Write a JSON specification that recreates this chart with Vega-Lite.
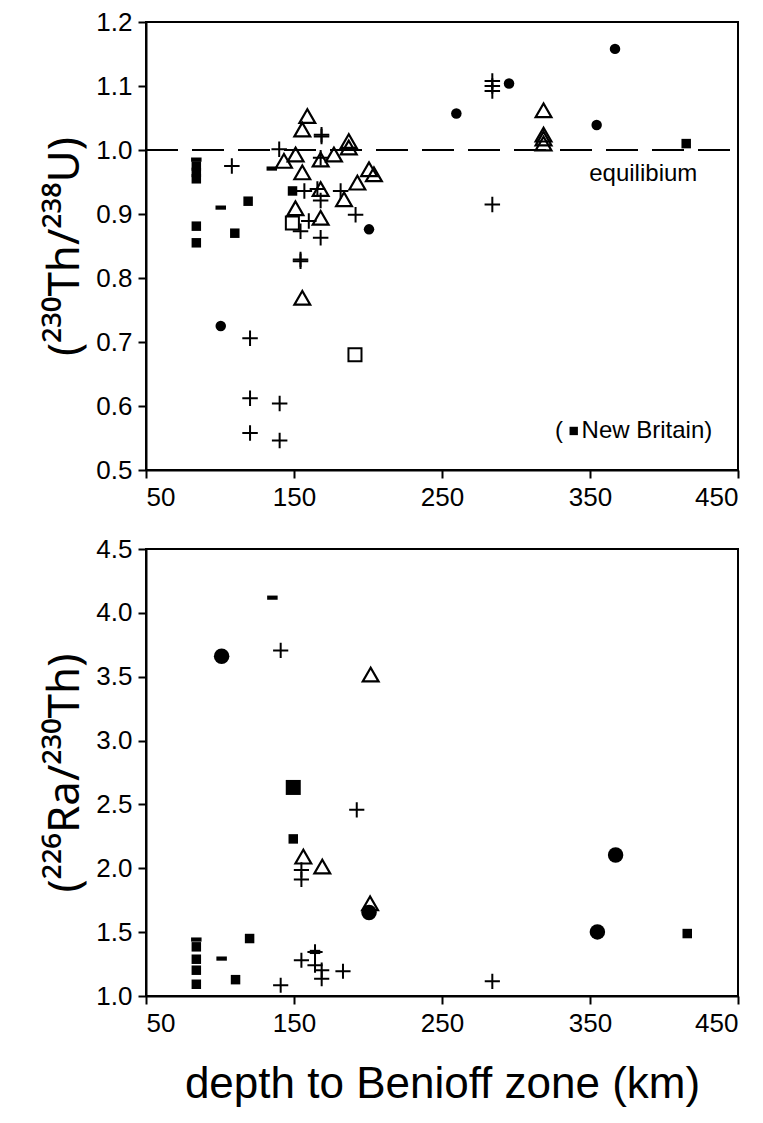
{
  "$schema": "https://vega.github.io/schema/vega-lite/v6.json",
  "padding": {"left": 42, "top": 8, "right": 10, "bottom": 10},
  "background": "white",
  "bounds": "flush",
  "spacing": 79,
  "datasets": {
    "top": [
      {"s": "sq", "x": 84, "y": 0.975}, {"s": "sq", "x": 84, "y": 0.965}, {"s": "sq", "x": 84, "y": 0.955},
      {"s": "sq", "x": 84, "y": 0.881}, {"s": "sq", "x": 84, "y": 0.855}, {"s": "sq", "x": 119, "y": 0.92},
      {"s": "sq", "x": 110, "y": 0.87}, {"s": "sq", "x": 149, "y": 0.936}, {"s": "sq", "x": 415, "y": 1.01},
      {"s": "dash", "x": 84, "y": 0.985}, {"s": "dash", "x": 100.5, "y": 0.91}, {"s": "dash", "x": 135, "y": 0.971},
      {"s": "ci", "x": 100.5, "y": 0.725}, {"s": "ci", "x": 200.7, "y": 0.876}, {"s": "ci", "x": 259.7, "y": 1.057},
      {"s": "ci", "x": 295.3, "y": 1.104}, {"s": "ci", "x": 366.9, "y": 1.158}, {"s": "ci", "x": 354.5, "y": 1.039},
      {"s": "cr", "x": 108, "y": 0.975}, {"s": "cr", "x": 140, "y": 1.001}, {"s": "cr", "x": 168.6, "y": 1.024},
      {"s": "cr", "x": 168.6, "y": 1.021}, {"s": "cr", "x": 168, "y": 0.988}, {"s": "cr", "x": 157, "y": 0.936},
      {"s": "cr", "x": 165.8, "y": 0.939}, {"s": "cr", "x": 168, "y": 0.921}, {"s": "cr", "x": 181.5, "y": 0.936},
      {"s": "cr", "x": 191.6, "y": 0.899}, {"s": "cr", "x": 154.4, "y": 0.873}, {"s": "cr", "x": 160, "y": 0.889},
      {"s": "cr", "x": 168, "y": 0.863}, {"s": "cr", "x": 154.4, "y": 0.829}, {"s": "cr", "x": 154.4, "y": 0.826},
      {"s": "cr", "x": 120.3, "y": 0.706}, {"s": "cr", "x": 120.3, "y": 0.612}, {"s": "cr", "x": 140.3, "y": 0.604},
      {"s": "cr", "x": 120.3, "y": 0.558}, {"s": "cr", "x": 140.3, "y": 0.546}, {"s": "cr", "x": 284, "y": 1.108},
      {"s": "cr", "x": 284, "y": 1.1}, {"s": "cr", "x": 284, "y": 1.092}, {"s": "cr", "x": 284, "y": 0.915},
      {"s": "tr", "x": 143.2, "y": 0.983}, {"s": "tr", "x": 151.1, "y": 0.993}, {"s": "tr", "x": 159, "y": 1.053},
      {"s": "tr", "x": 155.6, "y": 1.032}, {"s": "tr", "x": 155.6, "y": 0.965}, {"s": "tr", "x": 168, "y": 0.985},
      {"s": "tr", "x": 177, "y": 0.993}, {"s": "tr", "x": 187, "y": 1.014}, {"s": "tr", "x": 187, "y": 1.004},
      {"s": "tr", "x": 200.7, "y": 0.97}, {"s": "tr", "x": 204, "y": 0.962}, {"s": "tr", "x": 192.8, "y": 0.949},
      {"s": "tr", "x": 168, "y": 0.939}, {"s": "tr", "x": 183.8, "y": 0.923}, {"s": "tr", "x": 151, "y": 0.909},
      {"s": "tr", "x": 168, "y": 0.894}, {"s": "tr", "x": 155.6, "y": 0.769}, {"s": "tr", "x": 318.6, "y": 1.062},
      {"s": "tr", "x": 318.6, "y": 1.024}, {"s": "tr", "x": 318.6, "y": 1.018}, {"s": "tr", "x": 318.6, "y": 1.01},
      {"s": "osq", "x": 148.9, "y": 0.886}, {"s": "osq", "x": 191.2, "y": 0.68}
    ],
    "bot": [
      {"s": "sq", "x": 84, "y": 1.385}, {"s": "sq", "x": 84, "y": 1.288}, {"s": "sq", "x": 84, "y": 1.202},
      {"s": "sq", "x": 84, "y": 1.092}, {"s": "sq", "x": 120, "y": 1.45}, {"s": "sq", "x": 110.5, "y": 1.128},
      {"s": "sq", "x": 149.5, "y": 2.23}, {"s": "sq", "x": 415.7, "y": 1.489},
      {"s": "bsq", "x": 149.5, "y": 2.633},
      {"s": "dash", "x": 84, "y": 1.442}, {"s": "dash", "x": 101.1, "y": 1.293}, {"s": "dash", "x": 135.4, "y": 4.119},
      {"s": "dash", "x": 164.2, "y": 1.345},
      {"s": "ci", "x": 101.1, "y": 3.661}, {"s": "ci", "x": 200.7, "y": 1.654}, {"s": "ci", "x": 367.3, "y": 2.104},
      {"s": "ci", "x": 355, "y": 1.502},
      {"s": "cr", "x": 141, "y": 3.706}, {"s": "cr", "x": 192.4, "y": 2.458}, {"s": "cr", "x": 155, "y": 1.987},
      {"s": "cr", "x": 155, "y": 1.913}, {"s": "cr", "x": 141, "y": 1.084}, {"s": "cr", "x": 155, "y": 1.28},
      {"s": "cr", "x": 164.2, "y": 1.345}, {"s": "cr", "x": 164.2, "y": 1.241}, {"s": "cr", "x": 168.7, "y": 1.202},
      {"s": "cr", "x": 168.7, "y": 1.136}, {"s": "cr", "x": 183.1, "y": 1.194}, {"s": "cr", "x": 284, "y": 1.115},
      {"s": "tr", "x": 156.3, "y": 2.091}, {"s": "tr", "x": 169.1, "y": 2.013}, {"s": "tr", "x": 201.4, "y": 1.725},
      {"s": "tr", "x": 201.8, "y": 3.517}
    ]
  },
  "config": {
    "view": {"stroke": "black", "strokeWidth": 2},
    "axis": {
      "domainColor": "black", "domainWidth": 2, "tickColor": "black", "tickWidth": 2, "tickSize": 8,
      "grid": false, "labelFont": "Liberation Sans", "labelFontSize": 26, "labelColor": "black", "labelPadding": 6,
      "titleFont": "Liberation Sans", "titleFontWeight": "normal", "titleColor": "black"
    },
    "text": {"font": "Liberation Sans", "color": "black"}
  },
  "vconcat": [
    {
      "width": 592, "height": 448,
      "data": {"name": "top"},
      "encoding": {
        "x": {"field": "x", "type": "quantitative", "scale": {"domain": [50, 450], "nice": false},
              "axis": {"values": [50, 150, 250, 350, 450], "title": null}},
        "y": {"field": "y", "type": "quantitative", "scale": {"domain": [0.5, 1.2], "nice": false, "zero": false},
              "axis": {"values": [0.5, 0.6, 0.7, 0.8, 0.9, 1.0, 1.1, 1.2], "format": ".1f", "title": "(²³⁰Th/²³⁸U)", "titleFont": "Noto Sans", "titleFontSize": 44, "titlePadding": 8}}
      },
      "layer": [
        {"mark": {"type": "rule", "strokeDash": [32, 14], "strokeWidth": 2, "color": "black"},
         "encoding": {"y": {"datum": 1}, "x": {"value": 0}, "x2": {"value": 592}}},
        {"transform": [{"filter": "datum.s === 'sq'"}], "mark": {"type": "point", "shape": "square", "filled": true, "color": "black", "size": 90, "opacity": 1}},
        {"transform": [{"filter": "datum.s === 'dash'"}], "mark": {"type": "point", "shape": "M-1,-0.4H1V0.4H-1Z", "filled": true, "color": "black", "size": 110, "opacity": 1}},
        {"transform": [{"filter": "datum.s === 'ci'"}], "mark": {"type": "point", "shape": "circle", "filled": true, "color": "black", "size": 110, "opacity": 1}},
        {"transform": [{"filter": "datum.s === 'cr'"}], "mark": {"type": "point", "shape": "M-1,0H1M0,-1V1", "filled": false, "color": "black", "strokeWidth": 2, "size": 240, "opacity": 1}},
        {"transform": [{"filter": "datum.s === 'tr'"}], "mark": {"type": "point", "shape": "triangle-up", "filled": false, "color": "black", "strokeWidth": 2.2, "size": 250, "opacity": 1}},
        {"transform": [{"filter": "datum.s === 'osq'"}], "mark": {"type": "point", "shape": "square", "filled": false, "color": "black", "strokeWidth": 2, "size": 170, "opacity": 1}},
        {"data": {"values": [{"x": 386, "y": 0.962, "t": "equilibium"}]},
         "mark": {"type": "text", "fontSize": 24, "align": "center", "baseline": "middle"},
         "encoding": {"text": {"field": "t"}}},
        {"data": {"values": [{"x": 329, "y": 0.561, "t": "("}, {"x": 347, "y": 0.561, "t": "New Britain)"}]},
         "mark": {"type": "text", "fontSize": 24, "align": "left", "baseline": "middle", "dx": -4},
         "encoding": {"text": {"field": "t"}}},
        {"data": {"values": [{"x": 339, "y": 0.561}]},
         "mark": {"type": "point", "shape": "square", "filled": true, "color": "black", "size": 70, "opacity": 1}}
      ]
    },
    {
      "width": 592, "height": 447,
      "data": {"name": "bot"},
      "encoding": {
        "x": {"field": "x", "type": "quantitative", "scale": {"domain": [50, 450], "nice": false},
              "axis": {"values": [50, 150, 250, 350, 450], "title": "depth to Benioff zone (km)", "titleFontSize": 44, "titlePadding": 26}},
        "y": {"field": "y", "type": "quantitative", "scale": {"domain": [1, 4.5], "nice": false, "zero": false},
              "axis": {"values": [1, 1.5, 2, 2.5, 3, 3.5, 4, 4.5], "format": ".1f", "title": "(²²⁶Ra/²³⁰Th)", "titleFont": "Noto Sans", "titleFontSize": 44, "titlePadding": 8}}
      },
      "layer": [
        {"transform": [{"filter": "datum.s === 'sq'"}], "mark": {"type": "point", "shape": "square", "filled": true, "color": "black", "size": 90, "opacity": 1}},
        {"transform": [{"filter": "datum.s === 'bsq'"}], "mark": {"type": "point", "shape": "square", "filled": true, "color": "black", "size": 225, "opacity": 1}},
        {"transform": [{"filter": "datum.s === 'dash'"}], "mark": {"type": "point", "shape": "M-1,-0.4H1V0.4H-1Z", "filled": true, "color": "black", "size": 110, "opacity": 1}},
        {"transform": [{"filter": "datum.s === 'ci'"}], "mark": {"type": "point", "shape": "circle", "filled": true, "color": "black", "size": 240, "opacity": 1}},
        {"transform": [{"filter": "datum.s === 'cr'"}], "mark": {"type": "point", "shape": "M-1,0H1M0,-1V1", "filled": false, "color": "black", "strokeWidth": 2, "size": 230, "opacity": 1}},
        {"transform": [{"filter": "datum.s === 'tr'"}], "mark": {"type": "point", "shape": "triangle-up", "filled": false, "color": "black", "strokeWidth": 2.2, "size": 250, "opacity": 1}}
      ]
    }
  ]
}
